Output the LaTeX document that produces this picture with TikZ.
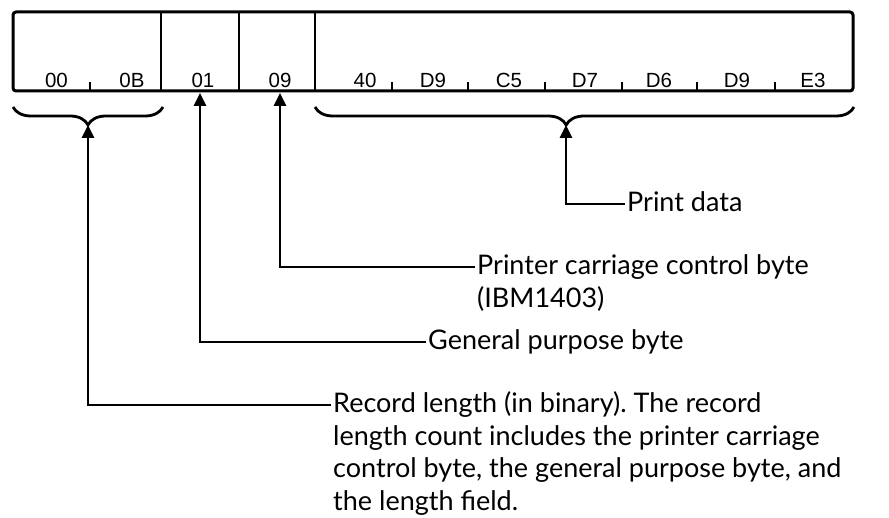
\documentclass[tikz,border=0pt]{standalone}
\usepackage{fontspec}
\setmainfont{Lato}
\newfontfamily\boxfont{Liberation Sans}
\usetikzlibrary{decorations.pathreplacing,arrows.meta}
\frenchspacing
\begin{document}
\begin{tikzpicture}[x=1pt,y=-1pt,
  frame/.style={draw, line width=3pt, rounded corners=3pt, inner sep=0pt, minimum width=840pt, minimum height=79pt},
  divider/.style={line width=2.2pt},
  tickmark/.style={line width=2pt},
  bytelbl/.style={font=\boxfont\fontsize{20.5}{22}\selectfont, inner sep=0pt},
  callout/.style={font=\fontsize{27}{32.5}\selectfont, inner sep=0pt, anchor=base west},
  lead/.style={line width=2.8pt, -{Triangle[length=13pt,width=12pt]}},
  bracestyle/.style={line width=2.8pt, decorate, decoration={brace, mirror, amplitude=18pt}},
]
\useasboundingbox (0,0) rectangle (889,518);

% record frame
\node[frame] (rec) at (433,51.5) {};
\draw[divider] (161,12) -- (161,91) (239,12) -- (239,91) (315,12) -- (315,91);

% byte labels
\node[bytelbl] (b00) at (56.5,80) {00};
\node[bytelbl] (b0B) at (132,80) {0B};
\node[bytelbl] (b01) at (203,80) {01};
\node[bytelbl] (b09) at (280,80) {09};
\node[bytelbl] (b40) at (365,80) {40};
\node[bytelbl] (bD9a) at (433,80) {D9};
\node[bytelbl] (bC5) at (509,80) {C5};
\node[bytelbl] (bD7) at (585,80) {D7};
\node[bytelbl] (bD6) at (659,80) {D6};
\node[bytelbl] (bD9b) at (737,80) {D9};
\node[bytelbl] (bE3) at (813,80) {E3};

% byte separators
\foreach \x in {90,392,468,545,622,697,775}
  \draw[tickmark] (\x,82) -- (\x,91);

% braces
\coordinate (brLa) at (13,107);
\coordinate (brLb) at (163,107);
\coordinate (brRa) at (315,107);
\coordinate (brRb) at (854,107);
\draw[bracestyle] (brLa) -- (brLb);
\draw[bracestyle, decoration={aspect=0.466}] (brRa) -- (brRb);
\coordinate (tipL) at (88,125);
\coordinate (tipR) at (566,125);
\coordinate (tip01) at (200,93);
\coordinate (tip09) at (280,93);

% callout anchors
\coordinate (pdL) at (625,204);
\coordinate (pcL) at (475,267);
\coordinate (gpL) at (426,342);
\coordinate (rlL) at (331,405);

\node[callout] (pd) at ([xshift=2pt,yshift=-8pt]pdL) {Print data};
\node[callout] (pc) at ([xshift=2pt,yshift=-8pt]pcL) {\begin{tabular}[t]{@{}l@{}}Printer carriage control byte\\(IBM1403)\end{tabular}};
\node[callout] (gp) at ([xshift=2pt,yshift=-8pt]gpL) {General purpose byte};
\node[callout] (rl) at ([xshift=2pt,yshift=-8pt]rlL) {\begin{tabular}[t]{@{}l@{}}Record length (in binary). The record\\length count includes the printer carriage\\control byte, the general purpose byte, and\\the length field.\end{tabular}};

% leaders
\draw[lead] (pdL) -| (tipR);
\draw[lead] (pcL) -| (tip09);
\draw[lead] (gpL) -| (tip01);
\draw[lead] (rlL) -| (tipL);
\end{tikzpicture}
\end{document}
